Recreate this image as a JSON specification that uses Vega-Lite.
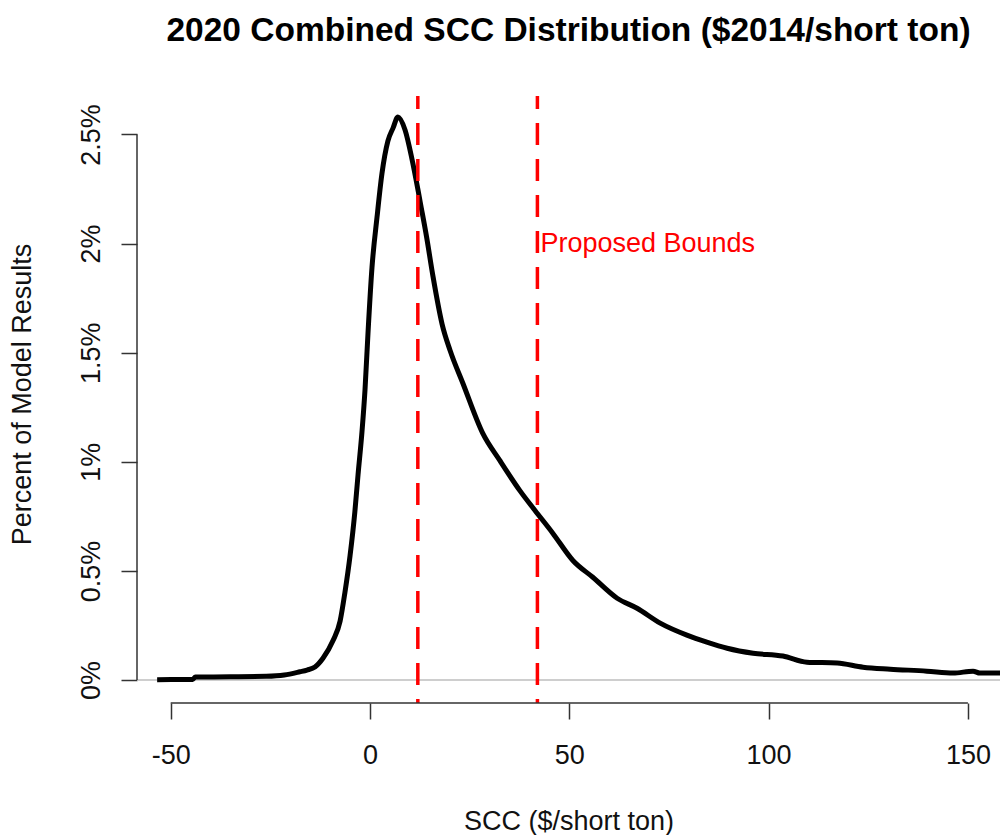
{
  "$schema": "https://vega.github.io/schema/vega-lite/v6.json",
  "autosize": {"type": "none"},
  "padding": {"left": 137, "top": 96, "right": 0, "bottom": 132},
  "width": 863,
  "height": 607,
  "background": "white",
  "config": {
    "view": {"stroke": null},
    "font": "Liberation Sans",
    "axis": {"grid": false, "domain": false, "tickColor": "#333333", "tickWidth": 1.5, "tickSize": 16, "labelFont": "Liberation Sans", "labelFontSize": 27, "labelColor": "#111111", "titleFont": "Liberation Sans", "titleFontSize": 27, "titleFontWeight": "normal", "titleColor": "#111111"}
  },
  "title": {"text": "2020 Combined SCC Distribution ($2014/short ton)", "font": "Liberation Sans", "fontSize": 33.5, "fontWeight": "bold", "color": "#000000", "anchor": "middle", "frame": "group", "baseline": "alphabetic", "offset": 20},
  "datasets": {
    "curve": [
      {"x": -53.4, "y": 0.002}, {"x": -44.5, "y": 0.003}, {"x": -43.8, "y": 0.014}, {"x": -35, "y": 0.015},
      {"x": -26, "y": 0.017}, {"x": -21.5, "y": 0.023}, {"x": -17.6, "y": 0.038}, {"x": -15.8, "y": 0.046},
      {"x": -13.8, "y": 0.06}, {"x": -11.8, "y": 0.1}, {"x": -9.3, "y": 0.18}, {"x": -7.5, "y": 0.27},
      {"x": -6.3, "y": 0.4}, {"x": -5.0, "y": 0.57}, {"x": -3.8, "y": 0.77}, {"x": -3.0, "y": 0.94},
      {"x": -2.0, "y": 1.14}, {"x": -1.25, "y": 1.33}, {"x": -0.5, "y": 1.59}, {"x": 0.5, "y": 1.89},
      {"x": 1.76, "y": 2.12}, {"x": 3.0, "y": 2.32}, {"x": 4.5, "y": 2.47}, {"x": 5.8, "y": 2.53},
      {"x": 7.0, "y": 2.58}, {"x": 8.8, "y": 2.52}, {"x": 10.5, "y": 2.39}, {"x": 12.0, "y": 2.25},
      {"x": 12.6, "y": 2.19}, {"x": 14.2, "y": 2.03}, {"x": 15.8, "y": 1.85}, {"x": 18.1, "y": 1.63},
      {"x": 20.1, "y": 1.51}, {"x": 23.3, "y": 1.36}, {"x": 28.3, "y": 1.13}, {"x": 32.6, "y": 1.005},
      {"x": 37.6, "y": 0.868}, {"x": 41.4, "y": 0.777}, {"x": 45.9, "y": 0.672}, {"x": 50.9, "y": 0.548},
      {"x": 55.9, "y": 0.471}, {"x": 62.0, "y": 0.375}, {"x": 67.0, "y": 0.329}, {"x": 72.8, "y": 0.261},
      {"x": 79.5, "y": 0.206}, {"x": 84.5, "y": 0.174}, {"x": 89.6, "y": 0.146}, {"x": 96.1, "y": 0.123},
      {"x": 103.6, "y": 0.11}, {"x": 109.6, "y": 0.082}, {"x": 117.2, "y": 0.078}, {"x": 123.7, "y": 0.059},
      {"x": 130.5, "y": 0.05}, {"x": 139.7, "y": 0.041}, {"x": 146.3, "y": 0.032}, {"x": 151.3, "y": 0.041},
      {"x": 153.0, "y": 0.032}, {"x": 158.1, "y": 0.032}
    ],
    "bounds": [{"x": 12}, {"x": 42}],
    "note": [{"x": 42, "y": 2.0, "label": "Proposed Bounds"}],
    "zero": [{"y": 0}],
    "xaxisline": [{"x": -50, "x2": 150, "y": -0.105}],
    "yaxisline": [{"x": -58.45, "y": 0, "y2": 2.5}]
  },
  "layer": [
    {
      "data": {"name": "zero"},
      "mark": {"type": "rule", "color": "#bebebe", "strokeWidth": 1.5},
      "encoding": {
        "y": {"field": "y", "type": "quantitative", "title": "Percent of Model Results", "scale": {"domain": [-0.105, 2.676], "nice": false, "zero": false},
          "axis": {"values": [0, 0.5, 1, 1.5, 2, 2.5], "labelExpr": "datum.value + '%'", "labelAngle": 270, "labelAlign": "center", "labelBaseline": "alphabetic", "labelPadding": 22, "titleAngle": 270, "titleAlign": "center", "titleBaseline": "alphabetic", "titleX": -107, "titleY": 298}}
      }
    },
    {
      "data": {"name": "curve"},
      "mark": {"type": "line", "color": "#000000", "strokeWidth": 5, "strokeJoin": "round", "interpolate": "monotone", "clip": true},
      "encoding": {
        "x": {"field": "x", "type": "quantitative", "title": "SCC ($/short ton)", "scale": {"domain": [-58.45, 158.05], "nice": false, "zero": false},
          "axis": {"values": [-50, 0, 50, 100, 150], "labelExpr": "datum.value < 0 ? '-' + abs(datum.value) : '' + datum.value", "labelBaseline": "alphabetic", "labelPadding": 44, "labelFlush": false, "titleBaseline": "alphabetic", "titleY": 126}},
        "y": {"field": "y", "type": "quantitative", "title": "Percent of Model Results", "scale": {"domain": [-0.105, 2.676], "nice": false, "zero": false}},
        "order": {"field": "x", "type": "quantitative"}
      }
    },
    {
      "data": {"name": "bounds"},
      "mark": {"type": "rule", "color": "#ff0000", "strokeWidth": 3.5, "strokeDash": [22, 14], "strokeDashOffset": 9},
      "encoding": {
        "x": {"field": "x", "type": "quantitative", "title": "SCC ($/short ton)", "scale": {"domain": [-58.45, 158.05], "nice": false, "zero": false}}
      }
    },
    {
      "data": {"name": "note"},
      "mark": {"type": "text", "color": "#ff0000", "fontSize": 27, "font": "Liberation Sans", "align": "left", "baseline": "middle", "dx": 3},
      "encoding": {
        "x": {"field": "x", "type": "quantitative", "title": "SCC ($/short ton)", "scale": {"domain": [-58.45, 158.05], "nice": false, "zero": false}},
        "y": {"field": "y", "type": "quantitative", "title": "Percent of Model Results", "scale": {"domain": [-0.105, 2.676], "nice": false, "zero": false}},
        "text": {"field": "label"}
      }
    },
    {
      "data": {"name": "xaxisline"},
      "mark": {"type": "rule", "color": "#333333", "strokeWidth": 1.5},
      "encoding": {
        "x": {"field": "x", "type": "quantitative", "title": "SCC ($/short ton)", "scale": {"domain": [-58.45, 158.05], "nice": false, "zero": false}},
        "x2": {"field": "x2"},
        "y": {"field": "y", "type": "quantitative", "title": "Percent of Model Results", "scale": {"domain": [-0.105, 2.676], "nice": false, "zero": false}}
      }
    },
    {
      "data": {"name": "yaxisline"},
      "mark": {"type": "rule", "color": "#333333", "strokeWidth": 1.5},
      "encoding": {
        "x": {"field": "x", "type": "quantitative", "title": "SCC ($/short ton)", "scale": {"domain": [-58.45, 158.05], "nice": false, "zero": false}},
        "y": {"field": "y", "type": "quantitative", "title": "Percent of Model Results", "scale": {"domain": [-0.105, 2.676], "nice": false, "zero": false}},
        "y2": {"field": "y2"}
      }
    }
  ]
}
